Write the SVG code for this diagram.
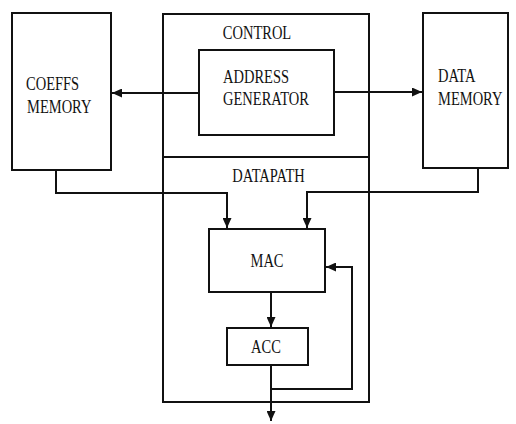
<svg xmlns="http://www.w3.org/2000/svg" width="516" height="424" viewBox="0 0 516 424">
<style>
.box{fill:none;stroke:#111;stroke-width:2}
.ln{fill:none;stroke:#111;stroke-width:2}
text{font-family:"Liberation Serif","Times New Roman",serif;font-size:14.5px;fill:#111}
.c{text-anchor:middle}
</style>
<defs>
<marker id="ah" markerUnits="userSpaceOnUse" markerWidth="11" markerHeight="9" refX="10" refY="4.5" orient="auto">
<path d="M0,0 L10,4.5 L0,9 z" fill="#111"/>
</marker>
</defs>
<rect width="516" height="424" fill="#fff"/>
<g id="coeffs">
<rect class="box" x="12" y="13" width="99" height="157"/>
<text transform="translate(26,90) scale(1,1.35)">COEFFS</text>
<text transform="translate(27,113) scale(1,1.35)">MEMORY</text>
</g>
<g id="control">
<rect class="box" x="163" y="14" width="206" height="143"/>
<text class="c" transform="translate(257,39) scale(1,1.35)">CONTROL</text>
</g>
<g id="datapath">
<rect class="box" x="163" y="157" width="206" height="245"/>
<text class="c" transform="translate(268.5,182) scale(1,1.35)">DATAPATH</text>
</g>
<g id="addrgen">
<rect class="box" x="199" y="50" width="135" height="85"/>
<text transform="translate(223,83) scale(1,1.35)">ADDRESS</text>
<text transform="translate(223,105) scale(1,1.35)">GENERATOR</text>
</g>
<g id="datamem">
<rect class="box" x="423" y="13" width="85" height="155"/>
<text transform="translate(438,82) scale(1,1.35)">DATA</text>
<text transform="translate(438,105) scale(1,1.35)">MEMORY</text>
</g>
<g id="mac">
<rect class="box" x="209" y="229" width="116" height="63"/>
<text class="c" transform="translate(267,267) scale(1,1.35)">MAC</text>
</g>
<g id="acc">
<rect class="box" x="227" y="328" width="81" height="37"/>
<text class="c" transform="translate(266,353) scale(1,1.35)">ACC</text>
</g>
<g id="connectors">
<path class="ln" d="M199,93 L112,93" marker-end="url(#ah)"/>
<path class="ln" d="M334,92 L422,92" marker-end="url(#ah)"/>
<path class="ln" d="M56,170 L56,193 L227,193 L227,228" marker-end="url(#ah)"/>
<path class="ln" d="M478,168 L478,192 L307,192 L307,228" marker-end="url(#ah)"/>
<path class="ln" d="M271,292 L271,327" marker-end="url(#ah)"/>
<path class="ln" d="M271,365 L271,421" marker-end="url(#ah)"/>
<path class="ln" d="M271,389 L352,389 L352,267 L326,267" marker-end="url(#ah)"/>
</g>
</svg>
